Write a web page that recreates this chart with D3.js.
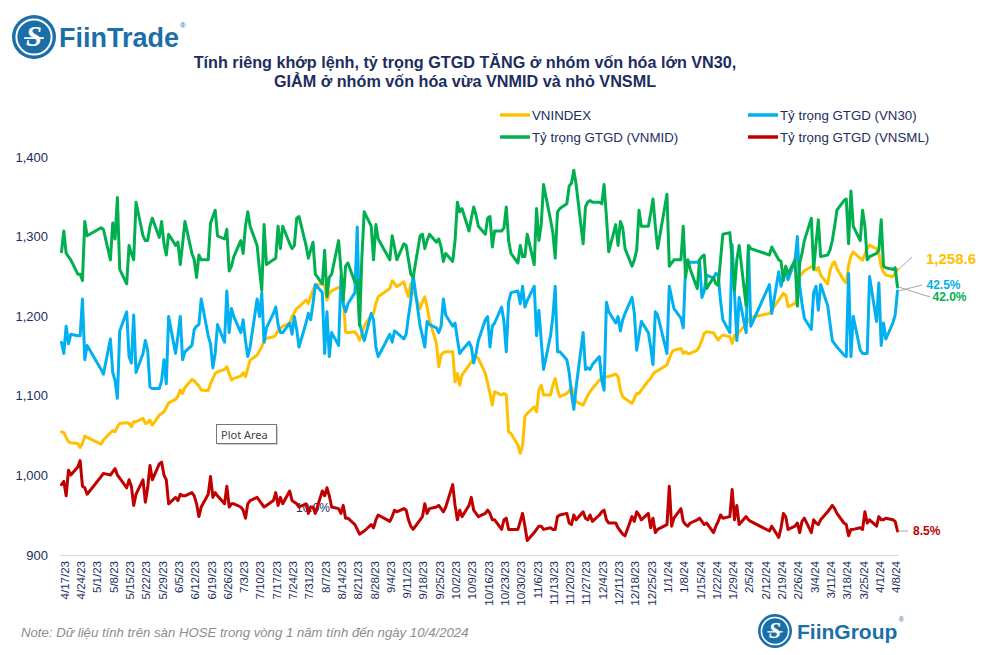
<!DOCTYPE html>
<html><head><meta charset="utf-8">
<script src="https://cdn.jsdelivr.net/npm/d3@7"></script>
<style>
body{margin:0;background:#fff}
svg{display:block}
text{font-family:"Liberation Sans",Arial,sans-serif}
</style>
</head><body>
<svg id="c" width="982" height="655"></svg>
<script>
// ---------- DATA ----------
const startDate = "2023-04-17", endDate = "2024-04-10";
const holidays = ["2023-05-01","2023-05-02","2023-05-03","2023-09-01","2023-09-04","2024-01-01",
  "2024-02-08","2024-02-09","2024-02-12","2024-02-13","2024-02-14"];
const yTicks = [900,1000,1100,1200,1300,1400];
const seriesNames = ["VNINDEX","Tỷ trọng GTGD (VN30)","Tỷ trọng GTGD (VNMID)","Tỷ trọng GTGD (VNSML)"];

const vnindex = [
1054.8,1053.6,1047.7,1042.3,1041.0, 1040.2,1035.1,1040.2,1049.4,1047.7, 1039.3,1044.4,
1053.6,1056.1,1054.8,1061.1,1065.3, 1066.1,1065.3,1061.1,1067.4,1067.4, 1071.6,1065.3,1066.1,1069.5,1063.2,
1075.8,1077.8,1079.9,1085.4,1091.2, 1095.4,1099.6,1107.2,1103.0,1110.5, 1120.6,1118.9,1115.5,1112.2,1107.2,
1106.3,1115.5,1121.4,1128.1,1130.2, 1133.1,1136.5,1128.1,1119.7,1121.8, 1124.7,1128.9,1123.9,1134.4,1144.8,
1151.1,1156.6,1161.6,1169.1,1172.1, 1174.2,1176.2,1182.5,1184.6,1187.6, 1190.9,1199.3,1204.3,1209.7,1211.8,
1220.2,1216.0,1224.4,1232.8,1239.0, 1241.1,1237.8,1220.2,1228.6,1231.9, 1236.1,1234.9,1220.2,1180.4,1179.2,
1180.4,1176.2,1170.0,1178.3,1187.5, 1201.4,1203.5,1216.0,1224.4, 1234.9,1244.5,1241.1,1237.0,
1243.2,1232.8,1224.4,1241.1,1232.8, 1209.7,1218.1,1224.4,1211.8,1195.1, 1165.8,1136.5,1151.1,1154.1,1155.3,
1155.3,1117.6,1128.1,1113.4,1126.0, 1138.6,1142.7,1146.9,1149.0,1146.9, 1128.1,1115.5,1103.0,1088.3,1105.1,
1100.9,1103.0,1100.9,1054.8,1052.7, 1038.1,1027.6,1038.1,1073.7,1077.8, 1086.2,1079.9,1107.2,1113.4,1100.9,
1100.9,1113.4,1121.8,1107.2,1098.8, 1103.0,1105.9,1111.3,1100.9,1092.5, 1088.3,1094.6,1100.9,1105.1,1109.2,
1119.7,1123.1,1123.9,1123.9,1124.3, 1127.3,1123.9,1107.2,1098.8,1096.7, 1090.4,1096.7,1103.0,1103.0,1107.2,
1118.9,1121.8,1127.3,1130.2,1131.4, 1138.6,1146.9,1154.1,1157.4, 1159.5,1153.2,1155.3,1153.2,1153.2,
1157.4,1162.4,1170.0,1178.3,1180.4, 1179.2,1174.1,1170.0,1174.1,1176.2, 1174.1,1165.8,1176.2,1174.1,1180.4,
1190.1,1195.9,1198.4, 1203.5,1207.6, 1220.2,1224.4,1228.6,1226.5,1211.8, 1216.0,1222.3,1249.5,1253.7,1257.1,
1262.1,1262.9,1257.9,1261.2,1251.6, 1240.3,1257.1,1265.4,1268.4,1260.0, 1244.5,1242.0,1264.2,1275.5,1280.9,
1272.5,1270.4,1278.0,1285.1,1289.3, 1284.7,1279.7,1262.1,1255.8,1251.6, 1249.5,1254.5,1258.6];

const vn30 = [
39.3,38.6,40.3,39.2,39.8, 39.7,39.7,42.0,38.2,39.1, 37.6,37.3,
39.5,37.4,36.9,35.8,40.0, 41.2,38.4,38.0,41.0,37.4, 38.6,39.4,38.8,36.5,36.4,
36.4,36.9,38.2,36.7,40.9, 38.6,39.7,40.9,38.2,38.7, 39.1,40.1,40.3,40.4,42.0,
39.7,39.2,37.7,38.6,40.4, 39.3,42.5,39.9,41.4,40.9, 39.9,40.7,39.4,38.4,39.0,
42.0,40.9,42.4,39.3,40.2, 41.1,41.5,40.4,39.9,39.9, 40.5,39.8,40.9,40.1,39.0,
40.5,41.1,40.7,41.7,42.9, 42.4,38.6,41.2,38.4,39.9, 39.1,43.4,41.7,41.2,41.7,
42.4,46.5,40.5,39.9,39.4, 41.1,40.7,39.0,38.4, 39.8,39.3,40.0,39.9,
39.5,39.8,40.9,41.9,43.5, 40.3,39.7,39.0,40.6,40.4, 40.2,39.9,40.3,42.0,41.0,
40.3,40.5,39.5,38.6,38.8, 39.3,39.0,38.0,38.6,39.4, 40.7,40.9,39.0,40.3,40.5,
41.5,40.6,38.7,41.8,42.4, 42.5,41.7,42.8,41.5,41.9, 42.8,39.7,41.3,39.4,37.6,
39.7,40.9,42.8,38.7,38.7, 38.2,37.4,36.1,35.1,36.5, 39.9,37.6,37.7,37.6,37.9,
38.4,36.9,36.3,41.8,41.2, 40.5,40.9,40.0,40.7,41.1, 42.1,41.1,38.8,39.7,40.6,
39.9,39.0,37.9,41.2,41.0, 38.6,42.8,42.1,41.4, 40.8,40.2,44.0,44.2,44.3,
44.3,44.4,42.1,42.5,43.5, 43.3,43.6,43.5,41.9,40.7, 39.9,45.4,42.4,39.4,42.1,
39.9,45.3,40.3, 42.9,41.1, 43.7,42.8,43.4,43.7,43.2, 44.4,45.9,42.8,41.7,40.8,
40.1,42.4,42.8,41.3,42.9, 41.6,40.5,39.4,39.2,39.0, 38.5,38.4,43.6,38.4,40.9,
38.8,38.6,38.6,38.6,43.4, 40.6,43.0,39.1,40.5,39.5, 40.5,41.0,42.5];

const vnmid = [
44.2,45.5,44.1,43.9,43.7, 42.8,42.8,42.4,46.1,45.2, 45.7,45.6,
43.7,46.0,45.0,47.6,43.1, 42.2,44.6,44.1,43.7,47.3, 45.2,44.9,44.9,45.8,46.3,
45.1,46.1,44.7,44.0,45.3, 44.6,44.8,43.4,44.7,46.1, 44.1,43.7,42.6,44.0,43.7,
43.7,46.0,46.4,46.8,45.2, 45.0,45.6,43.0,43.3,43.9, 44.9,44.1,45.8,46.7,45.8,
44.6,43.1,41.8,45.9,43.4, 43.7,43.8,45.8,44.4,45.8, 44.7,44.4,44.6,46.3,46.4,
44.6,43.8,44.3,44.8,42.8, 42.2,44.3,41.4,42.6,42.8, 44.9,43.1,41.2,43.3,43.5,
42.3,42.4,39.6,43.9,46.7, 45.8,43.7,45.9,45.0, 43.7,45.2,44.5,43.7,
44.7,44.6,43.7,42.8,42.6, 45.2,45.3,44.4,44.9,45.3, 44.8,45.0,44.5,43.6,44.1,
43.6,44.9,47.3,46.7,46.9, 45.5,46.3,47.0,46.5,45.8, 45.3,46.3,46.4,44.5,45.5,
45.5,45.7,47.0,44.9,44.1, 43.5,44.6,43.9,43.9,45.3, 43.4,46.9,44.9,45.9,48.4,
46.2,45.4,43.8,46.7,46.9, 47.2,48.3,48.5,49.3,48.4, 44.7,47.0,47.3,47.4,47.3,
47.3,47.2,48.4,46.4,44.2, 45.9,44.6,46.1,45.7,44.4, 43.3,43.7,44.3,46.8,45.8,
45.8,46.6,47.5,45.8,44.4, 47.8,43.3,43.5,43.7, 43.7,45.8,42.6,43.7,43.1,
41.9,43.7,43.9,44.0,41.9, 42.6,42.2,42.1,43.7,45.3, 45.4,43.7,41.8,43.7,44.6,
40.8,44.6,44.4, 44.0,44.5, 43.7,43.6,42.4,43.3,42.8, 43.7,40.8,43.5,44.1,44.9,
46.3,43.1,44.7,46.2,43.9, 44.0,44.3,44.9,45.8,46.8, 47.4,47.5,44.7,48.0,45.8,
44.9,46.8,45.8,43.7,43.9, 44.1,44.3,46.2,43.3,43.2, 43.1,43.2,42.0];

const vnsml = [
11.4,11.6,10.7,12.3,12.0, 12.5,12.9,11.3,11.2,10.8, 11.9,12.1,
12.0,12.2,12.4,12.0,11.8, 11.2,11.7,11.3,10.1,10.8, 11.7,10.3,11.2,12.6,11.7,
12.7,12.8,12.0,11.7,10.2, 10.6,10.4,10.8,10.7,10.7, 10.9,10.7,10.2,9.4,10.0,
10.8,11.9,10.6,10.9,10.7, 10.2,11.3,10.0,10.2,10.2, 10.0,9.8,9.3,10.2,10.4,
10.6,10.4,10.2,10.0,10.1, 10.4,10.9,10.1,10.6,10.2, 11.0,10.4,10.3,10.2,10.0,
10.2,9.6,10.0,10.0,9.6, 11.0,10.7,11.2,10.7,10.0, 9.9,9.6,10.1,9.3,9.3,
8.9,8.6,8.3,8.4,8.5, 8.9,8.7,9.2,9.5, 9.1,9.4,9.8,9.7,
9.9,9.8,9.2,8.8,8.6, 9.2,9.4,10.2,9.6,9.9, 10.0,10.1,9.9,9.7,10.0,
11.4,10.1,9.2,9.8,9.4, 10.1,10.6,9.8,9.6,9.4, 9.6,9.8,9.6,9.2,9.2,
8.6,9.2,9.3,8.6,8.6, 8.6,9.1,9.6,8.8,7.9, 8.4,8.6,8.8,8.8,8.6,
8.7,8.6,8.6,9.4,9.5, 9.6,9.0,8.9,9.5,9.2, 9.7,9.3,9.2,9.5,9.1,
9.5,9.7,9.8,9.2,9.0, 9.0,8.7,8.5,8.3,8.2, 9.4,9.1,9.7,9.5,9.2,
9.6,8.7,9.3,8.4,8.6, 8.9,11.3,8.8,9.3, 9.9,9.1,8.9,8.8,9.0,
9.2,9.3,9.1,8.9,9.0, 8.4,8.8,9.1,9.5,9.3, 9.4,11.1,9.2,10.1,8.9,
9.4,9.2,9.1, 8.5,8.8, 8.1,8.7,9.6,9.4,8.6, 8.8,9.0,8.4,9.1,9.3,
8.4,9.2,9.0,8.9,9.2, 9.7,9.9,10.1,9.9,9.6, 9.0,8.9,8.2,8.6,8.6,
8.7,8.6,9.7,9.0,9.2, 8.8,9.4,9.2,9.2,9.3, 9.2,9.1,8.5];

// ---------- SETUP ----------
const parse = d3.timeParse("%Y-%m-%d"), fmtISO = d3.timeFormat("%Y-%m-%d");
const hol = new Set(holidays);
const dates = d3.timeDay.range(parse(startDate), d3.timeDay.offset(parse(endDate), 1))
  .filter(d => d.getDay() % 6 !== 0 && !hol.has(fmtISO(d)));

const svg = d3.select("#c");
const NAVY = "#1c2d5e";
const colors = {vnindex:"#FFC000", vn30:"#00B0F0", vnmid:"#00B050", vnsml:"#C00000"};

const plotTop = 157, plotBottom = 555, plotLeft = 61.5, plotRight = 897.5;
const x = d3.scaleTime().domain([parse(startDate), parse(endDate)]).range([plotLeft, plotRight]);
const yL = d3.scaleLinear().domain([900, 1400]).range([plotBottom, plotTop]);
const y30 = d3.scaleLinear().domain([26, 50.875]).range([plotBottom, plotTop]);
const yMid = d3.scaleLinear().domain([25.25, 50.125]).range([plotBottom, plotTop]);
const ySml = d3.scaleLinear().domain([7, 31.875]).range([plotBottom, plotTop]);

// ---------- LOGO ----------
function logo(g, cx, cy, r) {
  g.append("circle").attr("cx", cx).attr("cy", cy).attr("r", r).attr("fill", "#1b6fa8");
  g.append("circle").attr("cx", cx).attr("cy", cy).attr("r", r * 0.8).attr("fill", "none")
    .attr("stroke", "#fff").attr("stroke-width", r * 0.09);
  g.append("text").attr("x", cx).attr("y", cy + r * 0.42).attr("text-anchor", "middle")
    .attr("fill", "#fff").style("font-family", "'Liberation Serif','DejaVu Serif',serif")
    .style("font-weight", "bold").style("font-style", "italic").style("font-size", (r * 1.3) + "px").text("S");
  g.append("line").attr("x1", cx - r * 0.45).attr("x2", cx + r * 0.45).attr("y1", cy + r * 0.05).attr("y2", cy + r * 0.05)
    .attr("stroke", "#fff").attr("stroke-width", r * 0.08);
}
const lg1 = svg.append("g");
logo(lg1, 34, 37, 22);
lg1.append("text").attr("x", 59).attr("y", 47).attr("fill", "#1b6fa8")
  .style("font-size", "27px").style("font-weight", "bold").text("FiinTrade");
lg1.append("text").attr("x", 180).attr("y", 28).attr("fill", "#1b6fa8").style("font-size", "8px").text("®");

// ---------- TITLE ----------
const title = ["Tính riêng khớp lệnh, tỷ trọng GTGD TĂNG ở nhóm vốn hóa lớn VN30,",
  "GIẢM ở nhóm vốn hóa vừa VNMID và nhỏ VNSML"];
svg.selectAll(".title").data(title).join("text").attr("class", "title")
  .attr("x", 465).attr("y", (d, i) => 67.5 + i * 19).attr("text-anchor", "middle")
  .attr("fill", NAVY).style("font-size", "16.2px").style("font-weight", "bold").text(d => d);

// ---------- LEGEND ----------
const legendItems = [
  {name: seriesNames[0], c: colors.vnindex, x: 500, y: 115},
  {name: seriesNames[1], c: colors.vn30, x: 748, y: 115},
  {name: seriesNames[2], c: colors.vnmid, x: 500, y: 137},
  {name: seriesNames[3], c: colors.vnsml, x: 748, y: 137}];
const lgd = svg.append("g").selectAll("g").data(legendItems).join("g");
lgd.append("line").attr("x1", d => d.x).attr("x2", d => d.x + 30).attr("y1", d => d.y).attr("y2", d => d.y)
  .attr("stroke", d => d.c).attr("stroke-width", 3.5);
lgd.append("text").attr("x", d => d.x + 32).attr("y", d => d.y + 4.5).attr("fill", NAVY)
  .style("font-size", "13.3px").text(d => d.name);

// ---------- AXES ----------
const gy = svg.append("g").attr("transform", "translate(51,0)")
  .call(d3.axisLeft(yL).tickValues(yTicks).tickSize(0).tickPadding(3).tickFormat(d3.format(",")));
gy.select(".domain").remove();
gy.selectAll("text").attr("fill", NAVY).style("font-size", "13px").style("font-family", "'Liberation Sans',Arial,sans-serif");

const mondays = d3.timeMonday.range(parse(startDate), d3.timeDay.offset(parse(endDate), 1));
const gx = svg.append("g").attr("transform", `translate(0,${plotBottom})`)
  .call(d3.axisBottom(x).tickValues(mondays).tickSize(0).tickSizeOuter(0).tickFormat(d3.timeFormat("%-m/%-d/%y")));
gx.select(".domain").attr("stroke", "#d9d9d9").attr("stroke-width", 1.2)
  .attr("d", `M${plotLeft - 1.5},0.5H${plotRight + 1}`);
gx.selectAll("text").attr("transform", "rotate(-90)").attr("x", -6).attr("y", 2.8).attr("dy", "0.35em")
  .style("text-anchor", "end").attr("fill", NAVY).style("font-size", "11.5px")
  .style("font-family", "'Liberation Sans',Arial,sans-serif");

// ---------- Plot Area tooltip ----------
const tip = svg.append("g");
tip.append("rect").attr("x", 218).attr("y", 426).attr("width", 60).attr("height", 19).attr("fill", "#cfcfcf");
tip.append("rect").attr("x", 216.5).attr("y", 424.5).attr("width", 60).attr("height", 19)
  .attr("fill", "#fff").attr("stroke", "#767676");
tip.append("text").attr("x", 221).attr("y", 438.5).attr("fill", "#444").style("font-family", "'Noto Sans',sans-serif")
  .style("font-size", "11px").text("Plot Area");

// ---------- LINES ----------
const n = Math.min(dates.length, vnindex.length, vn30.length, vnmid.length, vnsml.length);
function drawLine(vals, ys, color) {
  const pts = d3.range(n).map(i => ({d: dates[i], v: vals[i]}));
  svg.append("path").datum(pts).attr("fill", "none").attr("stroke", color).attr("stroke-width", 3)
    .attr("stroke-linejoin", "round").attr("stroke-linecap", "round")
    .attr("d", d3.line().x(p => x(p.d)).y(p => ys(p.v)));
}
drawLine(vnindex, yL, colors.vnindex);
drawLine(vn30, y30, colors.vn30);
drawLine(vnmid, yMid, colors.vnmid);
// data label 10.0% (drawn under the VNSML line)
const lblIdx = dates.findIndex(d => fmtISO(d) === "2023-08-03");
svg.append("text").attr("x", x(dates[lblIdx])).attr("y", ySml(vnsml[lblIdx]) + 4.5).attr("text-anchor", "middle")
  .attr("fill", NAVY).style("font-size", "12px").text(d3.format(".1f")(vnsml[lblIdx]) + "%");
drawLine(vnsml, ySml, colors.vnsml);

// ---------- END LABELS ----------
const last = n - 1, xe = x(dates[last]);
const ends = [
  {y: yL(vnindex[last]), txt: d3.format(",.1f")(vnindex[last]), c: "#FFC000", lx: 926, ly: 264, size: 15, lead: [912, 257]},
  {y: y30(vn30[last]), txt: d3.format(".1f")(vn30[last]) + "%", c: colors.vn30, lx: 926.5, ly: 288.5, size: 12, lead: [922, 285]},
  {y: yMid(vnmid[last]), txt: d3.format(".1f")(vnmid[last]) + "%", c: colors.vnmid, lx: 932.5, ly: 301, size: 12, lead: [930, 297]},
  {y: ySml(vnsml[last]), txt: d3.format(".1f")(vnsml[last]) + "%", c: colors.vnsml, lx: 913, ly: 534.5, size: 12, lead: [908, 531]}];
ends.forEach(e => {
  svg.append("line").attr("x1", xe + 1).attr("y1", e.y).attr("x2", e.lead[0]).attr("y2", e.lead[1])
    .attr("stroke", "#a6a6a6").attr("stroke-width", 1);
  svg.append("text").attr("x", e.lx).attr("y", e.ly).attr("fill", e.c).style("font-weight", "bold")
    .style("font-size", e.size + "px").text(e.txt);
});

// ---------- NOTE & FOOTER LOGO ----------
svg.append("text").attr("x", 21).attr("y", 637).attr("fill", "#8c8c8c").style("font-style", "italic")
  .style("font-size", "13.2px").text("Note: Dữ liệu tính trên sàn HOSE trong vòng 1 năm tính đến ngày 10/4/2024");
const lg2 = svg.append("g");
logo(lg2, 775, 631, 17);
const fg = lg2.append("text").attr("x", 797).attr("y", 639).attr("fill", "#1b6fa8")
  .style("font-size", "21px").style("font-weight", "bold").text("FiinGroup");
const fgEnd = 797 + fg.node().getComputedTextLength();
lg2.append("text").attr("x", fgEnd + 1.5).attr("y", 622).attr("fill", "#1b6fa8").style("font-size", "7px").text("®");
</script>
</body></html>
